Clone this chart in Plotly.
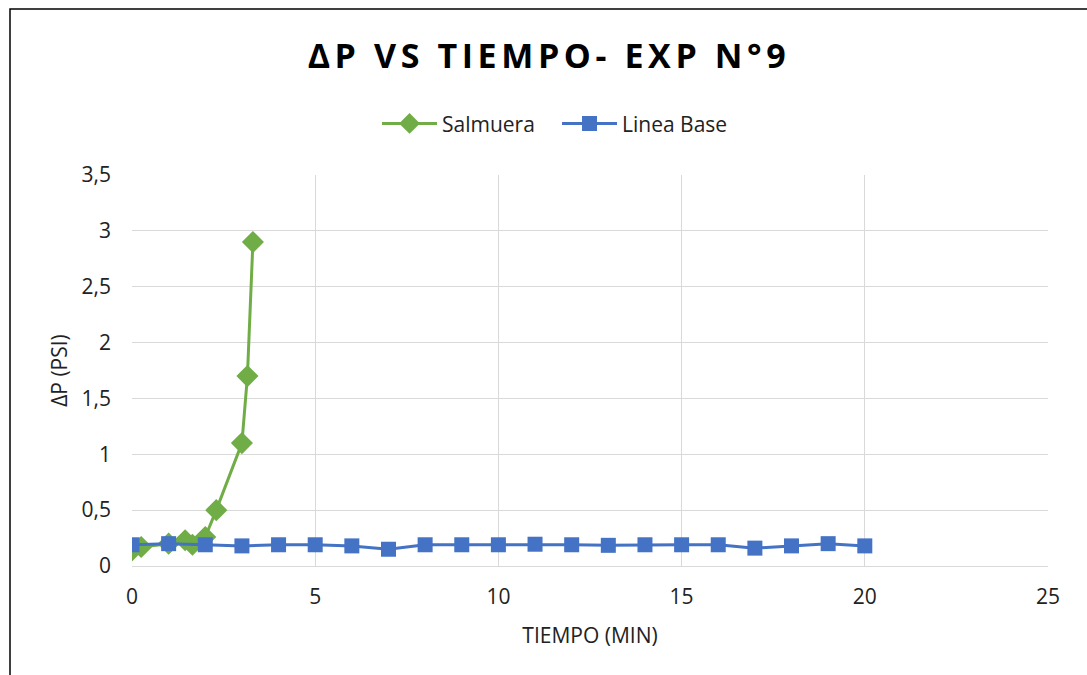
import plotly.graph_objects as go

salmuera_t = [0, 0.25, 1.0, 1.45, 1.65, 2.0, 2.3, 3.0, 3.15, 3.3]
salmuera_dp = [0.14, 0.17, 0.20, 0.23, 0.19, 0.26, 0.50, 1.10, 1.70, 2.90]

base_t = list(range(0, 21))
base_dp = [0.19, 0.20, 0.19, 0.18, 0.19, 0.19, 0.18, 0.15, 0.19, 0.19, 0.19,
           0.195, 0.19, 0.185, 0.19, 0.19, 0.19, 0.16, 0.18, 0.20, 0.18]

title_text = "ΔP VS TIEMPO- EXP N°9"
x_title = "TIEMPO (MIN)"
y_title = "ΔP (PSI)"

fig = go.Figure()
fig.add_trace(go.Scatter(
    x=salmuera_t, y=salmuera_dp, name="Salmuera", mode="lines+markers",
    line=dict(color="#70AD47", width=3),
    marker=dict(symbol="diamond", size=17, color="#70AD47"),
))
fig.add_trace(go.Scatter(
    x=base_t, y=base_dp, name="Linea Base", mode="lines+markers",
    line=dict(color="#4472C4", width=3),
    marker=dict(symbol="square", size=15, color="#4472C4"),
))

fig.update_layout(
    width=1087, height=675,
    margin=dict(l=132, r=39, t=175, b=109),
    paper_bgcolor="white", plot_bgcolor="white",
    font=dict(family="Open Sans", color="#222222", size=21),
    title=dict(text="<b>" + title_text + "</b>", x=0.505, xanchor="center",
               y=0.917, yanchor="middle",
               font=dict(family="Open Sans", size=34, color="black")),
    legend=dict(orientation="h", x=0.464, xanchor="center", y=1.131, yanchor="middle",
                font=dict(size=21, color="#222222"), itemwidth=55,
                entrywidth=110, entrywidthmode="pixels",
                bgcolor="rgba(0,0,0,0)"),
    showlegend=True,
    separators=", ",
)
fig.update_xaxes(
    range=[0, 25], dtick=5, tick0=0, showgrid=True, gridcolor="#d9d9d9", gridwidth=1.3,
    zeroline=False, showline=True, linecolor="#d9d9d9", linewidth=1.3,
    ticks="", ticklabelstandoff=12,
    title=dict(text=x_title, font=dict(size=21, color="#222222"), standoff=18),
    tickfont=dict(color="#222222", size=21),
)
fig.update_yaxes(
    range=[0, 3.5], dtick=0.5, tick0=0, showgrid=True, gridcolor="#d9d9d9", gridwidth=1.3,
    zeroline=False, showline=False, ticks="", ticklabelstandoff=20,
    title=dict(text=y_title, font=dict(size=21, color="#222222"), standoff=8),
    tickfont=dict(color="#222222", size=21),
)

fig.add_shape(type="rect", xref="paper", yref="paper",
              x0=(10 - 132) / 916, x1=(1100 - 132) / 916,
              y0=(566 - 700) / 391, y1=(566 - 9) / 391,
              line=dict(color="black", width=1.5), fillcolor="rgba(0,0,0,0)",
              layer="below")

post = ("var t=document.querySelector('.gtitle');"
        "if(t){t.style.letterSpacing='4.6px';}")
fig.write_html("out.html", post_script=post)
